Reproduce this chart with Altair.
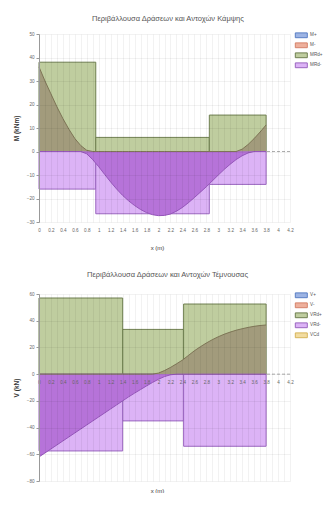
import altair as alt
import pandas as pd

FONT = "Liberation Sans"

# ---------------- data ----------------
x_pts = [0.0, 0.1, 0.2, 0.3, 0.4, 0.5, 0.6, 0.7, 0.8, 0.9, 1.0, 1.1, 1.2, 1.3,
         1.4, 1.5, 1.6, 1.7, 1.8, 1.9, 2.0, 2.1, 2.2, 2.3, 2.4, 2.5, 2.6, 2.7,
         2.8, 2.9, 3.0, 3.1, 3.2, 3.3, 3.4, 3.5, 3.6, 3.7, 3.8]

# bending moment envelope (kNm)
m_upper = [36, 30, 24.5, 19, 14, 9.5, 5.5, 2.5, 0.5, 0, 0, 0, 0, 0,
           0, 0, 0, 0, 0, 0, 0, 0, 0, 0, 0, 0, 0, 0,
           0, 0, 0, 0, 0, 0, 1, 3, 5.5, 8.3, 11.3]
m_lower = [0, 0, 0, 0, 0, 0, 0, 0, -1, -3.5, -6.5, -9.8, -13, -16,
           -18.7, -21, -23, -24.7, -26, -26.9, -27.3, -27.2, -26.6, -25.4, -23.8, -21.8, -19.6, -17.3,
           -15, -12.5, -10, -7.6, -5.4, -3.4, -1.8, -0.6, 0, 0, 0]

# shear envelope (kN)
v_upper = [0, 0, 0, 0, 0, 0, 0, 0, 0, 0, 0, 0, 0, 0,
           0, 0, 0, 0, 0, 0, 0.8, 2.7, 5, 7.7, 10.5, 14, 17.5, 20.5,
           23.3, 25.8, 28, 29.9, 31.5, 32.9, 34, 35, 35.8, 36.4, 36.8]
v_lower = [-62, -59, -56, -53, -50, -47, -44, -41, -38, -35, -32, -29, -26, -23,
           -20, -17, -14.2, -11.5, -8.8, -6.2, -3.8, -1.8, -0.5, 0, 0, 0, 0, 0,
           0, 0, 0, 0, 0, 0, 0, 0, 0, 0, 0]

# resistances (step functions)
mrd_x0 = [0.0, 0.95, 2.85]
mrd_x1 = [0.95, 2.85, 3.8]
mrd_pos = [38, 6, 15.5]
mrd_neg = [-16, -26.5, -14]

vrd_x0 = [0.0, 1.4, 2.42]
vrd_x1 = [1.4, 2.42, 3.8]
vrd_pos = [57, 33.5, 52.5]
vrd_neg = [-57.5, -35, -54]

m_names = ["M+", "M-", "MRd+", "MRd-"]
v_names = ["V+", "V-", "VRd+", "VRd-", "VCd"]

x_tick_values = [0.0, 0.1, 0.2, 0.3, 0.4, 0.5, 0.6, 0.7, 0.8, 0.9, 1.0, 1.1, 1.2, 1.3,
                 1.4, 1.5, 1.6, 1.7, 1.8, 1.9, 2.0, 2.1, 2.2, 2.3, 2.4, 2.5, 2.6, 2.7,
                 2.8, 2.9, 3.0, 3.1, 3.2, 3.3, 3.4, 3.5, 3.6, 3.7, 3.8, 3.9, 4.0, 4.1, 4.2]
m_ticks = [-30, -20, -10, 0, 10, 20, 30, 40, 50]
v_ticks = [-80, -60, -40, -20, 0, 20, 40, 60]

fill_colors = ["#9db4e4", "#eeb09c", "#bfcd9f", "#dcb3f6", "#f2dca0"]
stroke_colors = ["#5a7fc4", "#d4826a", "#6f7f50", "#9a66bf", "#d6b45a"]

PLOT_W = 251
GRID = "rgba(0,0,0,0.075)"


def build(title, names, x0, x1, pos, neg, upper, lower, yticks, ydom, ytitle,
          height, x_offset, x_title_y, title_offset):
    n = len(names)
    rd_df = pd.DataFrame({
        "series": [names[2]] * len(x0) + [names[3]] * len(x0),
        "x0": x0 + x0,
        "x1": x1 + x1,
        "val": pos + neg,
    })
    curve_df = pd.DataFrame({"x": x_pts, "upper": upper, "lower": lower})
    zero_df = pd.DataFrame({"z": [0]})

    xscale = alt.Scale(domain=[0, 4.2], nice=False, zero=False)
    yscale = alt.Scale(domain=ydom, nice=False)

    xaxis = alt.Axis(
        values=x_tick_values,
        labelExpr="(round(datum.value*10) % 2 == 0) ? format(datum.value, '~g') : ''",
        grid=True, gridColor=GRID, gridWidth=0.7,
        ticks=False, tickSize=0, domain=False,
        labelFontSize=4.6, labelColor="#666", labelPadding=5, labelFont=FONT,
        labelOverlap=False, labelFlush=False, labelBound=False,
        offset=x_offset, zindex=1,
        title="x (m)", titleFontSize=6, titleColor="#333", titleFont=FONT,
        titleFontWeight="normal", titleX=118, titleY=x_title_y, titleBaseline="middle",
    )
    yaxis = alt.Axis(
        values=yticks, grid=True, gridColor=GRID, gridWidth=0.7,
        tickSize=3, tickColor="#999", domainColor="#999",
        labelFontSize=4.6, labelColor="#666", labelPadding=2, labelFont=FONT,
        labelOverlap=False, labelBound=False, zindex=1,
        minExtent=14, maxExtent=14, titlePadding=6,
        title=ytitle, titleFontSize=6.5, titleColor="#333", titleFont=FONT,
        titleFontWeight="bold",
    )
    leg = alt.Legend(
        orient="none", legendX=260, legendY=-1, title=None,
        symbolType="M-4,-1.6H4V1.6H-4Z", symbolSize=9, symbolStrokeWidth=1,
        labelFontSize=4.6, labelColor="#555", labelFont=FONT, labelOffset=6.5,
        rowPadding=0, padding=0,
    )

    X = lambda f: alt.X(f, scale=xscale, axis=xaxis)
    Y = lambda f: alt.Y(f, scale=yscale, axis=yaxis)

    rects = alt.Chart(rd_df).mark_rect(strokeWidth=1).encode(
        x=X("x0:Q"),
        x2="x1:Q",
        y=Y("val:Q"),
        y2=alt.datum(0),
        fill=alt.Fill("series:N", scale=alt.Scale(domain=names, range=fill_colors[:n]), legend=leg),
        stroke=alt.Stroke("series:N", scale=alt.Scale(domain=names, range=stroke_colors[:n]), legend=leg),
    )
    area_up = alt.Chart(curve_df).mark_area(color="#a29b7c", opacity=1).encode(
        x=X("x:Q"), y=Y("upper:Q"), y2=alt.datum(0))
    area_lo = alt.Chart(curve_df).mark_area(color="#b673d9", opacity=1).encode(
        x=X("x:Q"), y=Y("lower:Q"), y2=alt.datum(0))
    line_up = alt.Chart(curve_df).mark_line(color="#7e7556", strokeWidth=1).encode(
        x=X("x:Q"), y=Y("upper:Q"))
    line_lo = alt.Chart(curve_df).mark_line(color="#9656bb", strokeWidth=1).encode(
        x=X("x:Q"), y=Y("lower:Q"))
    zero = alt.Chart(zero_df).mark_rule(color="#999", strokeWidth=0.8, strokeDash=[3, 2]).encode(
        y=Y("z:Q"))

    return alt.layer(zero, rects, area_up, area_lo, line_up, line_lo).properties(
        width=PLOT_W, height=height,
        title=alt.Title(title, fontSize=7.5, font=FONT, fontWeight="normal",
                        color="#555", offset=title_offset, frame="bounds", anchor="middle"),
    )


top = build("Περιβάλλουσα Δράσεων και Αντοχών Κάμψης", m_names,
            mrd_x0, mrd_x1, mrd_pos, mrd_neg, m_upper, m_lower,
            m_ticks, [-30, 50], "M (kNm)", 188, 0, 25, 9)
bottom = build("Περιβάλλουσα Δράσεων και Αντοχών Τέμνουσας", v_names,
               vrd_x0, vrd_x1, vrd_pos, vrd_neg, v_upper, v_lower,
               v_ticks, [-80, 60], "V (kN)", 187, -107, 116, 13)

chart = alt.vconcat(top, bottom, spacing=20).resolve_scale(
    fill="independent", stroke="independent", x="independent", y="independent"
).properties(
    padding={"left": 5, "top": 6, "right": 0, "bottom": 0},
).configure_view(stroke=None).configure_axis(labelOverlap=False)

chart.save("out.html", embed_options={"renderer": "svg", "actions": False})
